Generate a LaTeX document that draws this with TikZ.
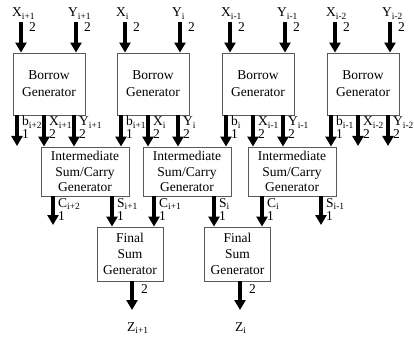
\documentclass[tikz,border=0pt]{standalone}
\usepackage{fontspec}
\setmainfont{Liberation Serif}
\usetikzlibrary{arrows.meta}
\tikzset{
  blk/.style={draw=black!65, line width=0.9pt, inner sep=0pt, align=center},
  bgbox/.style={blk, minimum width=72pt, minimum height=62pt, font=\fontsize{13.5}{17}\selectfont},
  icbox/.style={blk, minimum width=88pt, minimum height=49pt, font=\fontsize{13.5}{15.5}\selectfont},
  fsbox/.style={blk, minimum width=66pt, minimum height=54pt, font=\fontsize{13.5}{16}\selectfont},
  bus/.style={line width=3.8pt, -{Triangle[width=11pt,length=10pt]}},
  lbl/.style={inner sep=0pt, anchor=base west, font=\fontsize{13.5}{16}\selectfont},
}
\begin{document}
\begin{tikzpicture}[x=1pt,y=-1pt]
\useasboundingbox (0,0) rectangle (414,339);

% Borrow generators with their inputs
\foreach \k/\L/\s in {1/13/i+1,2/117/i,3/222/i-1,4/327/i-2}{
  \node[bgbox] (bg\k) at (\L+36,84) {Borrow\\Generator};
  \coordinate (tx\k) at (\L+8,22);
  \coordinate (ty\k) at (\L+63,22);
  \draw[bus] (tx\k) -- (tx\k |- bg\k.north);
  \draw[bus] (ty\k) -- (ty\k |- bg\k.north);
  \node[lbl] (lx\k) at (\L-1,17) {X\textsubscript{\s}};
  \node[lbl] (ly\k) at (\L+55,17) {Y\textsubscript{\s}};
  \node[lbl] (nx\k) at (\L+16,32) {2};
  \node[lbl] (ny\k) at (\L+71,32) {2};
}

% Intermediate sum/carry generators
\node[icbox] (ic1) at (85,171.5) {Intermediate\\Sum/Carry\\Generator};
\node[icbox] (ic2) at (187,171.5) {Intermediate\\Sum/Carry\\Generator};
\node[icbox] (ic3) at (292,171.5) {Intermediate\\Sum/Carry\\Generator};

% Final sum generators
\node[fsbox] (fs1) at (130,254) {Final\\Sum\\Generator};
\node[fsbox] (fs2) at (237.5,254) {Final\\Sum\\Generator};

% free ends
\coordinate (e1) at (17,146);
\coordinate (e2) at (358,146);
\coordinate (e3) at (388,146);
\coordinate (e4) at (53,225);
\coordinate (e5) at (321,225);
\coordinate (z1) at (132,310);
\coordinate (z2) at (240,310);

% Borrow generator outputs
\draw[bus] (17,0 |- bg1.south) -- (e1);
\draw[bus] (44,0 |- bg1.south) -- (44,0 |- ic1.north);
\draw[bus] (74,0 |- bg1.south) -- (74,0 |- ic1.north);
\draw[bus] (121,0 |- bg2.south) -- (121,0 |- ic1.north);
\draw[bus] (148,0 |- bg2.south) -- (148,0 |- ic2.north);
\draw[bus] (178,0 |- bg2.south) -- (178,0 |- ic2.north);
\draw[bus] (226,0 |- bg3.south) -- (226,0 |- ic2.north);
\draw[bus] (253,0 |- bg3.south) -- (253,0 |- ic3.north);
\draw[bus] (283,0 |- bg3.south) -- (283,0 |- ic3.north);
\draw[bus] (331,0 |- bg4.south) -- (331,0 |- ic3.north);
\draw[bus] (358,0 |- bg4.south) -- (e2);
\draw[bus] (388,0 |- bg4.south) -- (e3);

\foreach \x/\t/\n [count=\c] in {17/b\textsubscript{i+2}/1, 44/X\textsubscript{i+1}/2, 74/Y\textsubscript{i+1}/2,
  121/b\textsubscript{i+1}/1, 148/X\textsubscript{i}/2, 178/Y\textsubscript{i}/2,
  226/b\textsubscript{i}/1, 253/X\textsubscript{i-1}/2, 283/Y\textsubscript{i-1}/2,
  331/b\textsubscript{i-1}/1, 358/X\textsubscript{i-2}/2, 388/Y\textsubscript{i-2}/2}{
  \node[lbl] (bl\c) at (\x+5,126) {\t};
  \node[lbl] (bn\c) at (\x+5,139) {\n};
}

% Intermediate outputs
\draw[bus] (53,0 |- ic1.south) -- (e4);
\draw[bus] (112,0 |- ic1.south) -- (112,0 |- fs1.north);
\draw[bus] (154,0 |- ic2.south) -- (154,0 |- fs1.north);
\draw[bus] (214,0 |- ic2.south) -- (214,0 |- fs2.north);
\draw[bus] (262,0 |- ic3.south) -- (262,0 |- fs2.north);
\draw[bus] (321,0 |- ic3.south) -- (e5);

\foreach \x/\t [count=\c] in {53/C\textsubscript{i+2}, 112/S\textsubscript{i+1}, 154/C\textsubscript{i+1},
  214/S\textsubscript{i}, 262/C\textsubscript{i}, 321/S\textsubscript{i-1}}{
  \node[lbl] (il\c) at (\x+5,207) {\t};
  \node[lbl] (in\c) at (\x+5,220) {1};
}

% Final outputs
\draw[bus] (z1 |- fs1.south) -- (z1);
\draw[bus] (z2 |- fs2.south) -- (z2);
\node[lbl] (fn1) at (141,293) {2};
\node[lbl] (fn2) at (249,293) {2};
\node[lbl] (zl1) at (127,331) {Z\textsubscript{i+1}};
\node[lbl] (zl2) at (235,331) {Z\textsubscript{i}};
\end{tikzpicture}
\end{document}
